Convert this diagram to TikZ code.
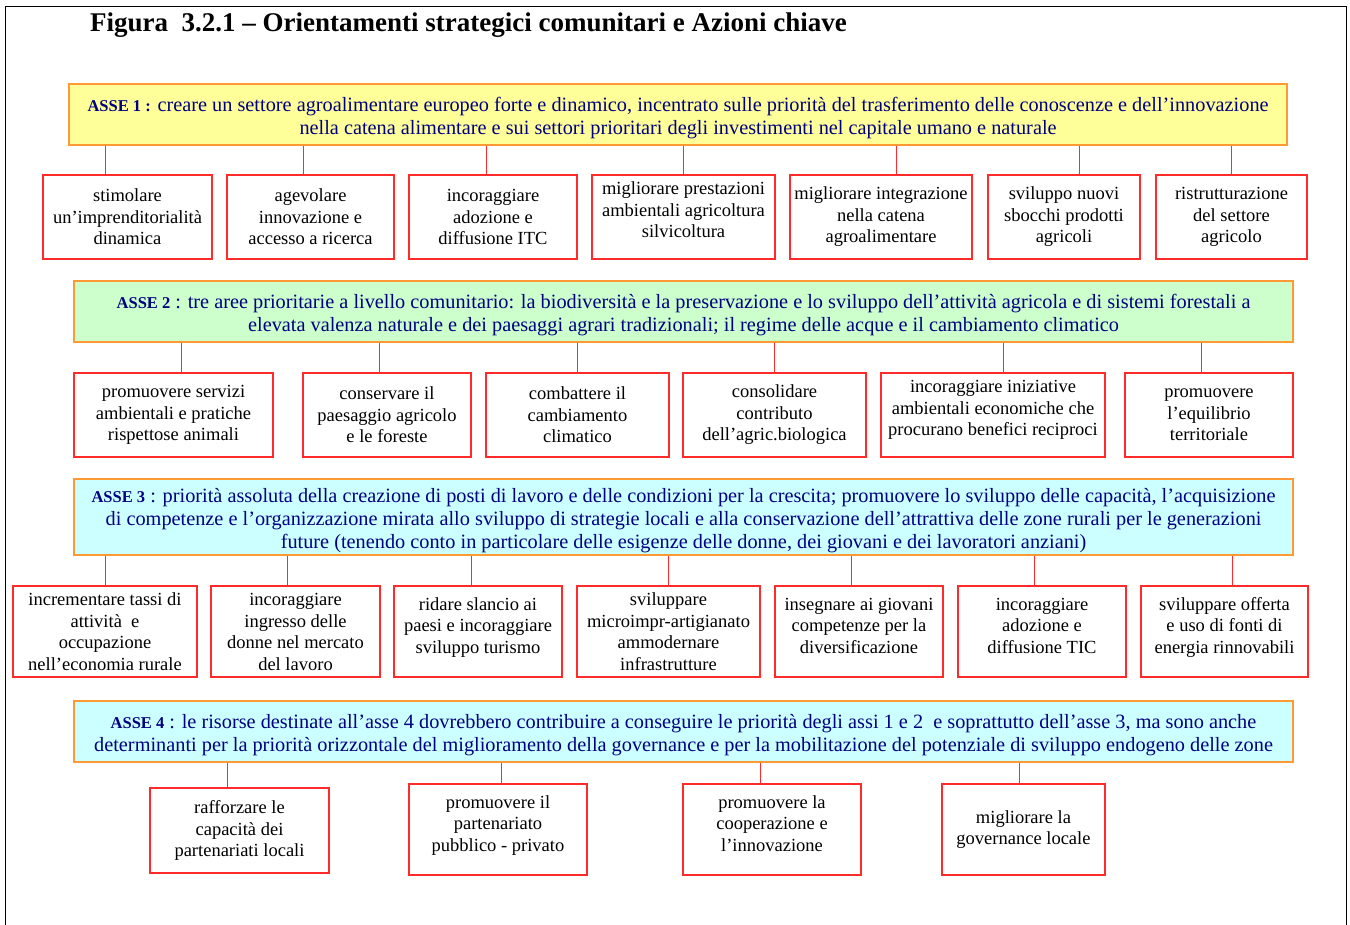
\documentclass[tikz,border=0pt]{standalone}
\usepackage{fontspec}
\setmainfont{Liberation Serif}
\definecolor{navyT}{HTML}{000080}
\definecolor{orangeB}{HTML}{FF9933}
\definecolor{redB}{HTML}{FF2A2A}
\definecolor{fillY}{HTML}{FFFF99}
\definecolor{fillG}{HTML}{CCFFCC}
\definecolor{fillC}{HTML}{CCFFFF}
\newcommand\liftx[2]{\raisebox{#1}[\height][\depth]{\begin{tabular}{@{}c@{}}#2\end{tabular}}}
\newcommand\asse[1]{{\fontsize{16.5}{23}\selectfont\bfseries #1}}
\begin{document}
\begin{tikzpicture}[x=1pt,y=-1pt,
  hdr/.style={draw=orangeB, line width=1.3pt, align=center, text=navyT,
    font=\fontsize{20.3}{23}\selectfont, inner sep=0pt},
  act/.style={draw=redB, line width=1.3pt, fill=white, align=center,
    font=\fontsize{18.5}{21.5}\selectfont, inner sep=0pt},
  conn/.style={draw=redB, line width=0.9pt},
  frame/.style={draw=black, line width=1pt}]
\useasboundingbox (0,0) rectangle (1350,925);
\draw[frame] (5,925) -- (5,7) -- (1346,7) -- (1346,925);

\node[anchor=base west, inner sep=0pt, font=\bfseries\fontsize{27}{30}\selectfont] (title) at (90,32)
  {Figura\ \ 3.2.1 – Orientamenti strategici comunitari e Azioni chiave};

% ---------- ASSE 1
\node[hdr, fill=fillY, minimum width=1218pt, minimum height=61pt] (h1) at (678,114.5)
  {\liftx{-3.5pt}{\asse{ASSE 1 :} creare un settore agroalimentare europeo forte e dinamico, incentrato sulle priorità del trasferimento delle conoscenze e dell’innovazione\\
   nella catena alimentare e sui settori prioritari degli investimenti nel capitale umano e naturale}};
\node[act, minimum width=169pt, minimum height=84pt] (b11) at (127.5,217) {stimolare\\un’imprenditorialità\\dinamica};
\node[act, minimum width=167pt, minimum height=84pt] (b12) at (310.5,217) {agevolare\\innovazione e\\accesso a ricerca};
\node[act, minimum width=168pt, minimum height=84pt] (b13) at (493,217) {incoraggiare\\adozione e\\diffusione ITC};
\node[act, minimum width=183pt, minimum height=84pt] (b14) at (683.5,217) {\liftx{5pt}{migliorare prestazioni\\ambientali agricoltura\\silvicoltura}};
\node[act, minimum width=182pt, minimum height=84pt] (b15) at (881,217) {migliorare integrazione\\nella catena\\agroalimentare};
\node[act, minimum width=152pt, minimum height=84pt] (b16) at (1064,217) {sviluppo nuovi\\sbocchi prodotti\\agricoli};
\node[act, minimum width=151pt, minimum height=84pt] (b17) at (1231.5,217) {ristrutturazione\\del settore\\agricolo};
\foreach \n/\x in {1/105,2/303,3/486,4/683,5/896,6/1079,7/1231}{
  \coordinate (k1\n) at (\x,0);
  \draw[conn] (k1\n |- h1.south) -- (k1\n |- b1\n.north);
}

% ---------- ASSE 2
\node[hdr, fill=fillG, minimum width=1219pt, minimum height=61pt] (h2) at (683.5,311.5)
  {\liftx{-3.5pt}{\asse{ASSE 2} : tre aree prioritarie a livello comunitario: la biodiversità e la preservazione e lo sviluppo dell’attività agricola e di sistemi forestali a\\
   elevata valenza naturale e dei paesaggi agrari tradizionali; il regime delle acque e il cambiamento climatico}};
\node[act, minimum width=199pt, minimum height=84pt] (b21) at (173.5,415) {promuovere servizi\\ambientali e pratiche\\rispettose animali};
\node[act, minimum width=168pt, minimum height=84pt] (b22) at (387,415) {conservare il\\paesaggio agricolo\\e le foreste};
\node[act, minimum width=183pt, minimum height=84pt] (b23) at (577.5,415) {combattere il\\cambiamento\\climatico};
\node[act, minimum width=183pt, minimum height=84pt] (b24) at (774.5,415) {consolidare\\contributo\\dell’agric.biologica};
\node[act, minimum width=224pt, minimum height=84pt] (b25) at (993,415) {\liftx{5pt}{incoraggiare iniziative\\ambientali economiche che\\procurano benefici reciproci}};
\node[act, minimum width=168pt, minimum height=84pt] (b26) at (1209,415) {promuovere\\l’equilibrio\\territoriale};
\foreach \n/\x in {1/181,2/379,3/577,4/774,5/1003,6/1201}{
  \coordinate (k2\n) at (\x,0);
  \draw[conn] (k2\n |- h2.south) -- (k2\n |- b2\n.north);
}

% ---------- ASSE 3
\node[hdr, fill=fillC, minimum width=1219pt, minimum height=76pt] (h3) at (683.5,517)
  {\liftx{-3.5pt}{\asse{ASSE 3} : priorità assoluta della creazione di posti di lavoro e delle condizioni per la crescita; promuovere lo sviluppo delle capacità, l’acquisizione\\
   di competenze e l’organizzazione mirata allo sviluppo di strategie locali e alla conservazione dell’attrattiva delle zone rurali per le generazioni\\
   future (tenendo conto in particolare delle esigenze delle donne, dei giovani e dei lavoratori anziani)}};
\node[act, minimum width=184pt, minimum height=91pt] (b31) at (105,631.5) {\liftx{-2pt}{incrementare tassi di\\attività\ \ e\\occupazione\\nell’economia rurale}};
\node[act, minimum width=169pt, minimum height=91pt] (b32) at (295.5,631.5) {\liftx{-2pt}{incoraggiare\\ingresso delle\\donne nel mercato\\del lavoro}};
\node[act, minimum width=168pt, minimum height=91pt] (b33) at (478,631.5) {\liftx{4pt}{ridare slancio ai\\paesi e incoraggiare\\sviluppo turismo}};
\node[act, minimum width=183pt, minimum height=91pt] (b34) at (668.5,631.5) {\liftx{-2pt}{sviluppare\\microimpr-artigianato\\ammodernare\\infrastrutture}};
\node[act, minimum width=168pt, minimum height=91pt] (b35) at (859,631.5) {\liftx{4pt}{insegnare ai giovani\\competenze per la\\diversificazione}};
\node[act, minimum width=168pt, minimum height=91pt] (b36) at (1042,631.5) {\liftx{4pt}{incoraggiare\\adozione e\\diffusione TIC}};
\node[act, minimum width=167pt, minimum height=91pt] (b37) at (1224.5,631.5) {\liftx{4pt}{sviluppare offerta\\e uso di fonti di\\energia rinnovabili}};
\foreach \n/\x in {1/105,2/287,3/471,4/668,5/851,6/1034,7/1232}{
  \coordinate (k3\n) at (\x,0);
  \draw[conn] (k3\n |- h3.south) -- (k3\n |- b3\n.north);
}

% ---------- ASSE 4
\node[hdr, fill=fillC, minimum width=1219pt, minimum height=61pt] (h4) at (683.5,731.5)
  {\liftx{-3.5pt}{\asse{ASSE 4} : le risorse destinate all’asse 4 dovrebbero contribuire a conseguire le priorità degli assi 1 e 2\ \ e soprattutto dell’asse 3, ma sono anche\\
   determinanti per la priorità orizzontale del miglioramento della governance e per la mobilitazione del potenziale di sviluppo endogeno delle zone}};
\node[act, minimum width=179pt, minimum height=85pt] (b41) at (239.5,830.5) {rafforzare le\\capacità dei\\partenariati locali};
\node[act, minimum width=178pt, minimum height=91pt] (b42) at (498,829.5) {\liftx{4pt}{promuovere il\\partenariato\\pubblico - privato}};
\node[act, minimum width=178pt, minimum height=91pt] (b43) at (772,829.5) {\liftx{4pt}{promuovere la\\cooperazione e\\l’innovazione}};
\node[act, minimum width=163pt, minimum height=91pt] (b44) at (1023.5,829.5) {migliorare la\\governance locale};
\foreach \n/\x in {1/227,2/501,3/760,4/1019}{
  \coordinate (k4\n) at (\x,0);
  \draw[conn] (k4\n |- h4.south) -- (k4\n |- b4\n.north);
}
\end{tikzpicture}
\end{document}
